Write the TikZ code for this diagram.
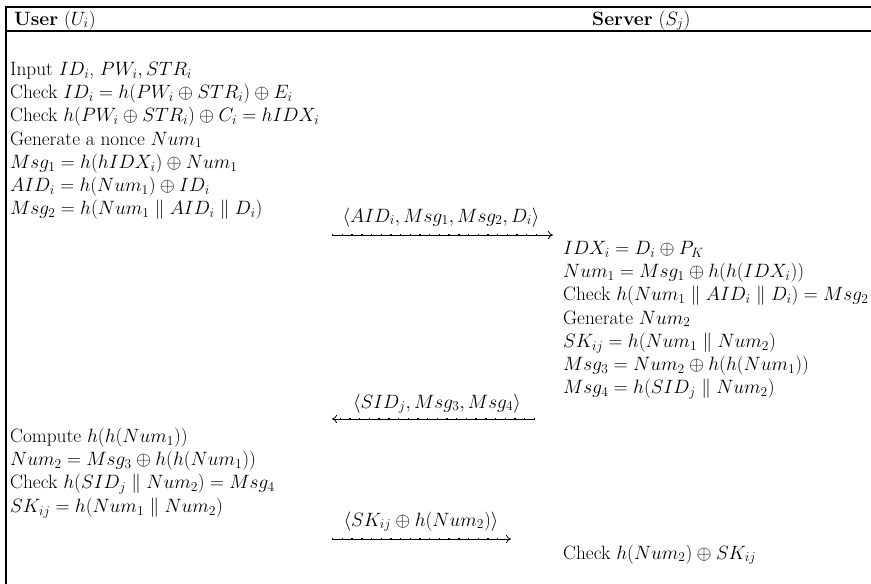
\RequirePackage{fix-cm}
\documentclass[tikz,border=0pt]{standalone}
\usepackage{amsmath,amssymb}
\usepackage{fontspec}
\usetikzlibrary{arrows.meta}
\begin{document}
\begin{tikzpicture}[x=1pt,y=-1pt,
  txt/.style={anchor=base west, inner sep=0pt, font=\fontsize{19.3}{23.2}\selectfont},
  lbl/.style={anchor=base, inner sep=0pt, font=\fontsize{19.3}{23.2}\selectfont},
  frame/.style={line width=1.6pt},
  msgline/.style={line width=0.8pt, -{Computer Modern Rightarrow[length=5pt,width=8pt,line width=0.8pt]}},
  msgdots/.style={line width=1.8pt, dash pattern=on 1.4pt off 8.3pt}
]
\useasboundingbox (0,0) rectangle (871,584);
\clip (0,0) rectangle (871,584);

% table frame
\coordinate (tl) at (6,7);
\coordinate (tr) at (871,7);
\coordinate (bl) at (6,584);
\coordinate (hl) at (6,31);
\coordinate (hr) at (871,31);
\draw[frame] (tr) -- (tl) -- (bl);
\draw[frame] (hl) -- (hr);

% header
\node[txt] (user) at (14,25) {\textbf{User} $(U_i)$};
\node[txt] (server) at (592,25) {\textbf{Server} $(S_j)$};

% user: login request
\node[txt] (u1) at (10,75.5) {Input $ID_i$, $PW_i, STR_i$};
\node[txt] (u2) at (10,98.7) {Check $ID_i = h(PW_i \oplus STR_i) \oplus E_i$};
\node[txt] (u3) at (10,121.9) {Check $h(PW_i \oplus STR_i) \oplus C_i = hIDX_i$};
\node[txt] (u4) at (10,145.1) {Generate a nonce $Num_1$};
\node[txt] (u5) at (10,168.3) {$Msg_1 = h(hIDX_i) \oplus Num_1$};
\node[txt] (u6) at (10,191.5) {$AID_i = h(Num_1) \oplus ID_i$};
\node[txt] (u7) at (10,214.7) {$Msg_2 = h(Num_1 \parallel AID_i \parallel D_i)$};

% message 1
\coordinate (m1s) at (332,235);
\coordinate (m1e) at (553,235);
\draw[msgline] (m1s) -- (m1e);
\draw[msgdots] (m1s) -- ([xshift=-8pt]m1e);
\node[lbl] (l1) at (441,222) {$\langle AID_i, Msg_1, Msg_2, D_i\rangle$};

% server: verification
\node[txt] (s1) at (563,254.5) {$IDX_i = D_i \oplus P_K$};
\node[txt] (s2) at (563,277.7) {$Num_1 = Msg_1 \oplus h(h(IDX_i))$};
\node[txt] (s3) at (563,300.9) {Check $h(Num_1 \parallel AID_i \parallel D_i) = Msg_2$};
\node[txt] (s4) at (563,324.1) {Generate $Num_2$};
\node[txt] (s5) at (563,347.3) {$SK_{ij} = h(Num_1 \parallel Num_2)$};
\node[txt] (s6) at (563,370.5) {$Msg_3 = Num_2 \oplus h(h(Num_1))$};
\node[txt] (s7) at (563,393.7) {$Msg_4 = h(SID_j \parallel Num_2)$};

% message 2
\coordinate (m2s) at (535,419);
\coordinate (m2e) at (332,419);
\draw[msgline] (m2s) -- (m2e);
\draw[msgdots] (m2s) -- ([xshift=8pt]m2e);
\node[lbl] (l2) at (437,408) {$\langle SID_j, Msg_3, Msg_4\rangle$};

% user: session key
\node[txt] (u8) at (10,442.5) {Compute $h(h(Num_1))$};
\node[txt] (u9) at (10,465.7) {$Num_2 = Msg_3 \oplus h(h(Num_1))$};
\node[txt] (u10) at (10,488.9) {Check $h(SID_j \parallel Num_2) = Msg_4$};
\node[txt] (u11) at (10,512.1) {$SK_{ij} = h(Num_1 \parallel Num_2)$};

% message 3
\coordinate (m3s) at (332,539);
\coordinate (m3e) at (511,539);
\draw[msgline] (m3s) -- (m3e);
\draw[msgdots] (m3s) -- ([xshift=-8pt]m3e);
\node[lbl] (l3) at (421,526) {$\langle SK_{ij} \oplus h(Num_2)\rangle$};

% server: final check
\node[txt] (s8) at (563,559) {Check $h(Num_2) \oplus SK_{ij}$};
\end{tikzpicture}
\end{document}
